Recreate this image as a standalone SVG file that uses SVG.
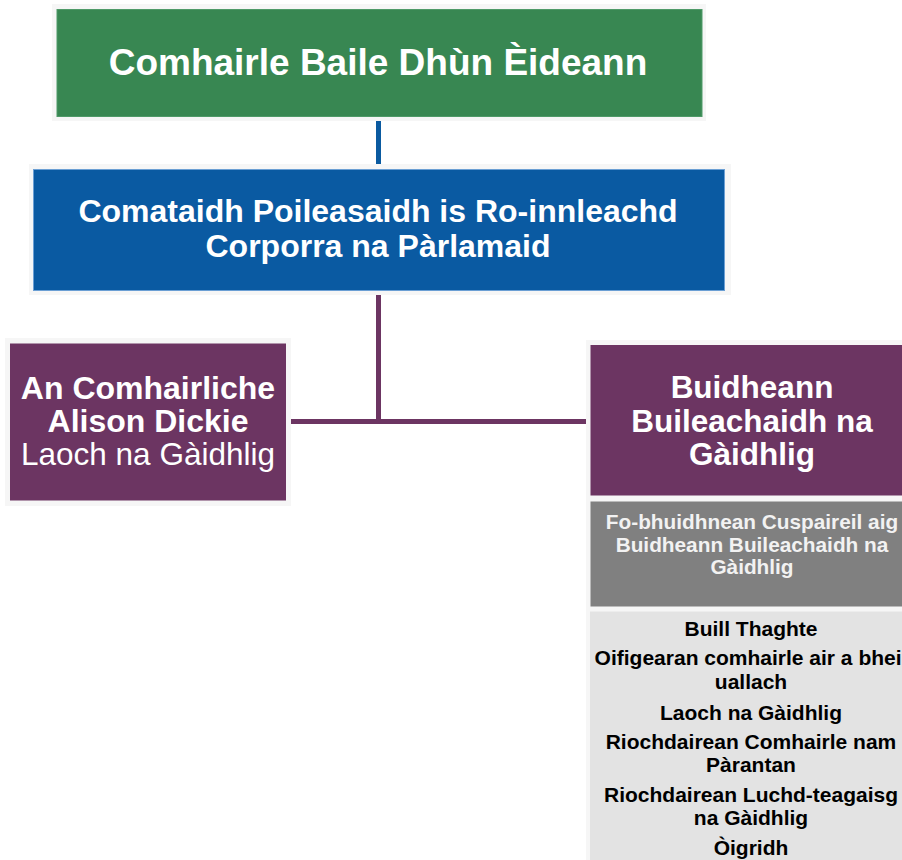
<svg xmlns="http://www.w3.org/2000/svg" width="902" height="860" viewBox="0 0 902 860">
<style>
.halo{fill:#f6f6f6}
.t{font-family:"Liberation Sans",Arial,sans-serif;text-anchor:middle}
.w{fill:#ffffff}
.b{font-weight:bold}
.k{fill:#000000}
</style>
<rect width="902" height="860" fill="#ffffff"/>
<g id="connectors">
<line x1="378.5" y1="121" x2="378.5" y2="165" stroke="#0a5aa0" stroke-width="5"/>
<line x1="378.5" y1="295" x2="378.5" y2="424" stroke="#6c3562" stroke-width="5"/>
<line x1="290" y1="421.5" x2="587" y2="421.5" stroke="#6c3562" stroke-width="5"/>
</g>
<g id="council">
<rect class="halo" x="52" y="4" width="654" height="117"/>
<rect x="57" y="9.5" width="645" height="107" fill="#388752" stroke="#4f9a68" stroke-width="1"/>
<text class="t w b" x="378" y="75" font-size="37">Comhairle Baile Dhùn Èideann</text>
</g>
<g id="committee">
<rect class="halo" x="29" y="164" width="702" height="131"/>
<rect x="33.5" y="169.5" width="691" height="121" fill="#0a5aa2" stroke="#6b9fd4" stroke-width="1"/>
<text class="t w b" x="378" y="222" font-size="32">Comataidh Poileasaidh is Ro-innleachd</text>
<text class="t w b" x="378" y="257" font-size="32">Corporra na Pàrlamaid</text>
</g>
<g id="councillor">
<rect class="halo" x="5" y="338" width="286" height="168"/>
<rect x="10" y="343.5" width="276" height="157" fill="#6c3562"/>
<text class="t w b" x="148" y="399" font-size="32">An Comhairliche</text>
<text class="t w b" x="148" y="432" font-size="32">Alison Dickie</text>
<text class="t w" x="148" y="465" font-size="31.5">Laoch na Gàidhlig</text>
</g>
<g id="group">
<rect class="halo" x="586" y="340" width="316" height="520"/>
<rect x="590.5" y="345" width="320" height="150.5" fill="#6c3562"/>
<text class="t w b" x="752" y="398" font-size="31.5">Buidheann</text>
<text class="t w b" x="752" y="432" font-size="31.5">Buileachaidh na</text>
<text class="t w b" x="752" y="465" font-size="31.5">Gàidhlig</text>
</g>
<g id="subgroup">
<rect x="590.5" y="501.5" width="320" height="105" fill="#808080"/>
<text class="t b" fill="#f2f2f2" x="752" y="529" font-size="20.8">Fo-bhuidhnean Cuspaireil aig</text>
<text class="t b" fill="#f2f2f2" x="752" y="551.5" font-size="20.8">Buidheann Buileachaidh na</text>
<text class="t b" fill="#f2f2f2" x="752" y="574" font-size="20.8">Gàidhlig</text>
</g>
<g id="members">
<rect x="590" y="611.5" width="320" height="260" fill="#e3e3e3"/>
<text class="t k b" x="751" y="636" font-size="21">Buill Thaghte</text>
<text class="t k b" x="751" y="665" font-size="21">Oifigearan comhairle air a bheil</text>
<text class="t k b" x="751" y="688.5" font-size="21">uallach</text>
<text class="t k b" x="751" y="720" font-size="21">Laoch na Gàidhlig</text>
<text class="t k b" x="751" y="748.5" font-size="21">Riochdairean Comhairle nam</text>
<text class="t k b" x="751" y="771.5" font-size="21">Pàrantan</text>
<text class="t k b" x="751" y="802" font-size="21">Riochdairean Luchd-teagaisg</text>
<text class="t k b" x="751" y="825" font-size="21">na Gàidhlig</text>
<text class="t k b" x="751" y="855" font-size="21">Òigridh</text>
</g>
</svg>
